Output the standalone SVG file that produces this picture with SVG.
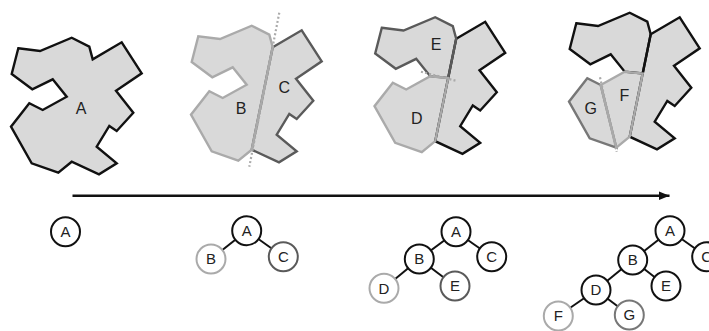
<svg xmlns="http://www.w3.org/2000/svg" xmlns:xlink="http://www.w3.org/1999/xlink" width="709" height="331" viewBox="0 0 709 331">
<style>
.fill{fill:#d9d9d9;stroke:none}
.reg{fill:none;stroke-width:2.4;stroke-linejoin:miter}
.k{stroke:#111}
.dk{stroke:#5a5a5a}
.md{stroke:#777}
.lt{stroke:#aaaaaa}
.cut{stroke:#aaaaaa;stroke-width:2.2;stroke-dasharray:2 2.2;fill:none}
.lbl{font-family:"Liberation Sans",Arial,sans-serif;font-size:16px;fill:#222;text-anchor:middle}
.node circle{fill:#fff;stroke-width:2}
.node text{font-family:"Liberation Sans",Arial,sans-serif;font-size:15px;fill:#222;text-anchor:middle}
.edge{stroke:#111;stroke-width:2}
</style>
<defs>
<polygon id="shapeA" points="18.3,48.3 40,51 71.7,37.7 89.3,46.7 92.7,59.3 121.7,42.3 141.7,73.3 116,90.7 133.3,112.7 116.7,131 109.3,126 96.7,146.7 116.7,163.3 99,174.3 71.7,161.7 58.3,172.7 31.7,163.3 11,126.7 29.3,103.3 42.7,110 66.7,96.7 52.7,79.3 32.3,89.3 11.7,74"/>
<polygon id="regC" points="92.7,59.3 121.7,42.3 141.7,73.3 116,90.7 133.3,112.7 116.7,131 109.3,126 96.7,146.7 116.7,163.3 99,174.3 71.7,161.7"/>
<polygon id="regB" points="71.7,161.7 58.3,172.7 31.7,163.3 11,126.7 29.3,103.3 42.7,110 66.7,96.7 52.7,79.3 32.3,89.3 11.7,74 18.3,48.3 40,51 71.7,37.7 89.3,46.7 92.7,59.3"/>
<polygon id="regE" points="18.3,48.3 40,51 71.7,37.7 89.3,46.7 92.7,59.3 84.7,98.5 66.7,96.7 52.7,79.3 32.3,89.3 11.7,74"/>
<polygon id="regD" points="84.7,98.5 71.7,161.7 58.3,172.7 31.7,163.3 11,126.7 29.3,103.3 42.7,110 66.7,96.7"/>
<polygon id="regF" points="42.7,110 66.7,96.7 84.7,98.5 71.7,161.7 58.3,172.7"/>
<polygon id="regG" points="58.3,172.7 31.7,163.3 11,126.7 29.3,103.3 42.7,110"/>
<marker id="arr" markerUnits="userSpaceOnUse" markerWidth="12" markerHeight="10" refX="11" refY="5" orient="auto">
<path d="M0,0.5 L11,5 L0,9.5 Z" fill="#111"/>
</marker>
</defs>

<g id="region-A">
<use xlink:href="#shapeA" class="fill"/>
<use xlink:href="#shapeA" class="reg k"/>
<text class="lbl" x="81" y="114">A</text>
</g>

<g id="region-BC" transform="translate(180,-12)">
<use xlink:href="#shapeA" class="fill"/>
<use xlink:href="#regC" class="reg dk"/>
<use xlink:href="#regB" class="reg lt"/>
</g>
<g id="cut-BC">
<line class="cut" x1="279.3" y1="12.7" x2="249.3" y2="166.7"/>
<text class="lbl" x="241" y="114">B</text>
<text class="lbl" x="284.3" y="93">C</text>
</g>

<g id="region-DEC" transform="translate(363.5,-20.5)">
<use xlink:href="#shapeA" class="fill"/>
<use xlink:href="#regC" class="reg k"/>
<use xlink:href="#regE" class="reg dk"/>
<use xlink:href="#regD" class="reg lt"/>
</g>
<g id="cut-DE">
<line class="cut" x1="421" y1="71.7" x2="456.7" y2="81"/>
<text class="lbl" x="436" y="50">E</text>
<text class="lbl" x="416.7" y="123.5">D</text>
</g>

<g id="region-FGEC" transform="translate(558,-25)">
<use xlink:href="#shapeA" class="fill"/>
<use xlink:href="#regC" class="reg k"/>
<use xlink:href="#regE" class="reg k"/>
<use xlink:href="#regG" class="reg md"/>
<use xlink:href="#regF" class="reg lt"/>
</g>
<g id="cut-FG">
<line class="cut" x1="600" y1="77.3" x2="616.7" y2="151.7"/>
<text class="lbl" x="624.3" y="101">F</text>
<text class="lbl" x="590.7" y="114">G</text>
</g>

<g id="connectors">
<line x1="72.5" y1="195.7" x2="669.5" y2="195.7" stroke="#111" stroke-width="2.4" marker-end="url(#arr)"/>
<line class="edge" x1="246.7" y1="230.7" x2="211" y2="259"/>
<line class="edge" x1="246.7" y1="230.7" x2="283.3" y2="256.7"/>
<line class="edge" x1="456" y1="231.7" x2="419.3" y2="259"/>
<line class="edge" x1="456" y1="231.7" x2="491.7" y2="256.7"/>
<line class="edge" x1="419.3" y1="259" x2="384" y2="288.3"/>
<line class="edge" x1="419.3" y1="259" x2="455" y2="286"/>
<line class="edge" x1="670" y1="230.7" x2="632.7" y2="260"/>
<line class="edge" x1="670" y1="230.7" x2="706.7" y2="256.7"/>
<line class="edge" x1="632.7" y1="260" x2="596" y2="290"/>
<line class="edge" x1="632.7" y1="260" x2="666" y2="286"/>
<line class="edge" x1="596" y1="290" x2="558.3" y2="316"/>
<line class="edge" x1="596" y1="290" x2="629.3" y2="315"/>
</g>

<g id="tree1-A" class="node"><circle cx="65.5" cy="231.7" r="14.5" stroke="#111"/><text x="65.5" y="237">A</text></g>

<g id="tree2-A" class="node"><circle cx="246.7" cy="230.7" r="14.5" stroke="#111"/><text x="246.7" y="236">A</text></g>
<g id="tree2-B" class="node"><circle cx="211" cy="259" r="14.5" stroke="#aaa"/><text x="211" y="264.3">B</text></g>
<g id="tree2-C" class="node"><circle cx="283.3" cy="256.7" r="14.5" stroke="#5a5a5a"/><text x="283.3" y="262">C</text></g>

<g id="tree3-A" class="node"><circle cx="456" cy="231.7" r="14.5" stroke="#111"/><text x="456" y="237">A</text></g>
<g id="tree3-B" class="node"><circle cx="419.3" cy="259" r="14.5" stroke="#111"/><text x="419.3" y="264.3">B</text></g>
<g id="tree3-C" class="node"><circle cx="491.7" cy="256.7" r="14.5" stroke="#111"/><text x="491.7" y="262">C</text></g>
<g id="tree3-D" class="node"><circle cx="384" cy="288.3" r="14.5" stroke="#aaa"/><text x="384" y="293.6">D</text></g>
<g id="tree3-E" class="node"><circle cx="455" cy="286" r="14.5" stroke="#5a5a5a"/><text x="455" y="291.3">E</text></g>

<g id="tree4-A" class="node"><circle cx="670" cy="230.7" r="14.5" stroke="#111"/><text x="670" y="236">A</text></g>
<g id="tree4-B" class="node"><circle cx="632.7" cy="260" r="14.5" stroke="#111"/><text x="632.7" y="265.3">B</text></g>
<g id="tree4-C" class="node"><circle cx="706.7" cy="256.7" r="14.5" stroke="#111"/><text x="706.7" y="262">C</text></g>
<g id="tree4-D" class="node"><circle cx="596" cy="290" r="14.5" stroke="#111"/><text x="596" y="295.3">D</text></g>
<g id="tree4-E" class="node"><circle cx="666" cy="286" r="14.5" stroke="#111"/><text x="666" y="291.3">E</text></g>
<g id="tree4-F" class="node"><circle cx="558.3" cy="316" r="14.5" stroke="#aaa"/><text x="558.3" y="321.3">F</text></g>
<g id="tree4-G" class="node"><circle cx="629.3" cy="315" r="14.5" stroke="#777"/><text x="629.3" y="320.3">G</text></g>
</svg>
